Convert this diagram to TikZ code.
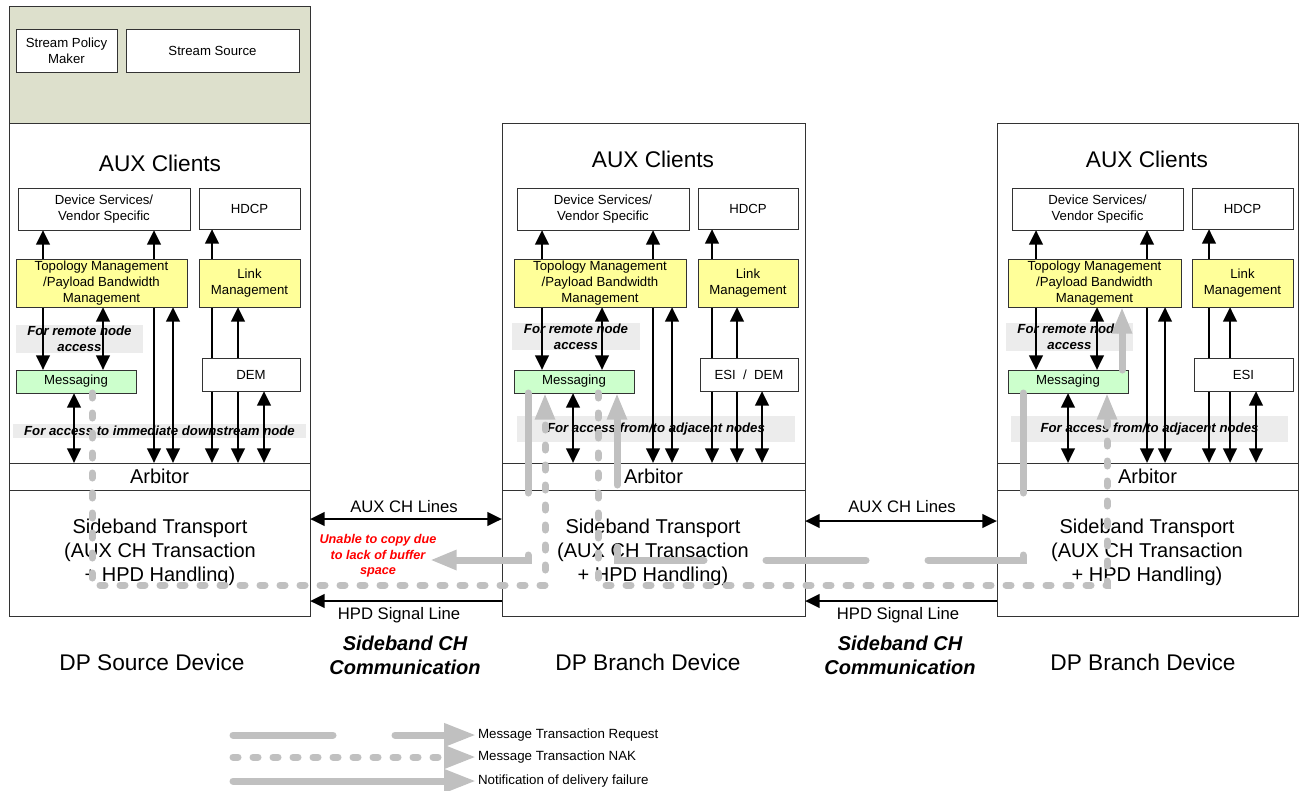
\documentclass[tikz,border=0pt]{standalone}
\usepackage{fontspec}
\setmainfont{Liberation Sans}
\usetikzlibrary{arrows.meta}
\pgfdeclarelayer{back}
\pgfdeclarelayer{mid}
\pgfsetlayers{back,mid,main}
\definecolor{topgreen}{RGB}{221,224,204}
\definecolor{yfill}{RGB}{255,255,153}
\definecolor{gfill}{RGB}{204,255,204}
\definecolor{bandg}{RGB}{236,236,236}
\definecolor{gline}{RGB}{192,192,192}
\definecolor{redtxt}{RGB}{255,0,0}
\newcommand\fsA{\fontsize{9.9}{12}\selectfont}
\newcommand\fsB{\fontsize{15}{18}\selectfont}
\newcommand\fsC{\fontsize{17}{20}\selectfont}
\newcommand\fsD{\fontsize{12.5}{15}\selectfont}
\newcommand\fsL{\fontsize{9.5}{11.6}\selectfont}
\newcommand\fsG{\fontsize{10}{12}\selectfont}
\newcommand\bx[7]{\node[#6, anchor=north west, minimum width={(#4-#2)*0.75pt}, minimum height={(#5-#3)*0.75pt}] (#1) at (#2,#3) {#7};}
\newcommand\va[3]{\draw[barr] (#1,0 |- #2) -- (#1,0 |- #3);}
\begin{document}
\begin{tikzpicture}[x=0.75pt, y=-0.75pt,
  every node/.style={font=\fsA, align=center, inner sep=0pt, outer sep=0pt},
  frame/.style={draw=black!80, line width=0.75pt, fill=white},
  ybox/.style={frame, fill=yfill},
  gbox/.style={frame, fill=gfill},
  band/.style={fill=bandg, draw=none},
  bandtxt/.style={font=\fsA\bfseries\itshape},
  barr/.style={line width=2.2pt, {Triangle[length=11pt,width=10pt]}-{Triangle[length=11pt,width=10pt]}},
  auxarr/.style={line width=2.2pt, {Triangle[length=11pt,width=10pt]}-{Triangle[length=11pt,width=10pt]}},
  hpdarr/.style={line width=2.2pt, -{Triangle[length=11pt,width=10pt]}},
  gtip/.style={-{Triangle[length=20pt,width=14pt]}},
  req/.style={draw=gline, line width=5.25pt, line cap=round, dash pattern=on 75pt off 46.5pt, gtip},
  nak/.style={draw=gline, line width=5.25pt, line cap=round, dash pattern=on 3.75pt off 11.25pt, gtip},
  fail/.style={draw=gline, line width=5.25pt, line cap=round, gtip},
  gtipL/.style={-{Triangle[length=24pt,width=16.5pt]}},
  devlbl/.style={font=\fsC},
  sbtxt/.style={font=\fsB}
]
\useasboundingbox (0,0) rectangle (1299,790);

\begin{pgfonlayer}{back}
\bx{tops}{9}{6}{310}{123}{frame, fill=topgreen}{}
\bx{devs}{9}{123}{310}{616}{frame}{}
\bx{devm}{502}{123}{805}{616}{frame}{}
\bx{devr}{997}{123}{1298}{616}{frame}{}
\bx{rbs}{16}{325}{143}{353}{band}{}
\bx{dbs}{13}{424}{306}{438}{band}{}
\bx{rbm}{512}{323}{640}{350}{band}{}
\bx{abm}{517}{416}{795}{442}{band}{}
\bx{rbr}{1006}{323}{1133}{351}{band}{}
\bx{abr}{1011}{416}{1288}{442}{band}{}
\end{pgfonlayer}

% ---------- source device ----------
\bx{spm}{16}{29}{117}{72}{frame}{Stream Policy\\Maker}
\bx{ssrc}{126}{29}{299}{72}{frame}{Stream Source}
\node[devlbl] (auxs) at (160,163) {AUX Clients};
\bx{dss}{18}{188}{190}{230}{frame}{Device Services/\\Vendor Specific}
\bx{hdcps}{199}{188}{300}{229}{frame}{HDCP}
\bx{topos}{16}{259}{187}{307}{ybox}{Topology Management\\/Payload Bandwidth\\Management}
\bx{links}{199}{259}{300}{307}{ybox}{Link\\Management}
\bx{msgs}{16}{370}{136}{393}{gbox}{Messaging}
\bx{dems}{202}{358}{300}{391}{frame}{DEM}
\bx{arbs}{9}{463}{310}{490}{frame}{\fsB Arbitor}
\node[sbtxt] (sbs) at (160,552) {Sideband Transport\\(AUX CH Transaction\\+ HPD Handling)};

% ---------- middle device ----------
\node[devlbl] (auxm) at (653,159) {AUX Clients};
\bx{dsm}{517}{188}{689}{230}{frame}{Device Services/\\Vendor Specific}
\bx{hdcpm}{698}{188}{798}{229}{frame}{HDCP}
\bx{topom}{514}{259}{686}{307}{ybox}{Topology Management\\/Payload Bandwidth\\Management}
\bx{linkm}{698}{259}{798}{307}{ybox}{Link\\Management}
\bx{msgm}{514}{370}{634}{393}{gbox}{Messaging}
\bx{esim}{700}{358}{798}{391}{frame}{ESI \ / \ DEM}
\bx{arbm}{502}{463}{805}{490}{frame}{\fsB Arbitor}
\node[sbtxt] (sbm) at (653,552) {Sideband Transport\\(AUX CH Transaction\\+ HPD Handling)};

% ---------- right device ----------
\node[devlbl] (auxr) at (1147,159) {AUX Clients};
\bx{dsr}{1012}{188}{1183}{230}{frame}{Device Services/\\Vendor Specific}
\bx{hdcpr}{1192}{188}{1293}{229}{frame}{HDCP}
\bx{topor}{1008}{259}{1181}{307}{ybox}{Topology Management\\/Payload Bandwidth\\Management}
\bx{linkr}{1192}{259}{1293}{307}{ybox}{Link\\Management}
\bx{msgr}{1008}{370}{1128}{393}{gbox}{Messaging}
\bx{esir}{1194}{358}{1293}{391}{frame}{ESI}
\bx{arbr}{997}{463}{1298}{490}{frame}{\fsB Arbitor}
\node[sbtxt] (sbr) at (1147,552) {Sideband Transport\\(AUX CH Transaction\\+ HPD Handling)};

% ---------- black arrows ----------
\begin{pgfonlayer}{mid}
\va{43}{dss.south}{msgs.north}
\va{103}{topos.south}{msgs.north}
\va{154}{dss.south}{arbs.north}
\va{173}{topos.south}{arbs.north}
\va{212}{hdcps.south}{arbs.north}
\va{238}{links.south}{arbs.north}
\va{264}{dems.south}{arbs.north}
\va{74}{msgs.south}{arbs.north}
\va{542}{dsm.south}{msgm.north}
\va{602}{topom.south}{msgm.north}
\va{653}{dsm.south}{arbm.north}
\va{672}{topom.south}{arbm.north}
\va{712}{hdcpm.south}{arbm.north}
\va{737}{linkm.south}{arbm.north}
\va{762}{esim.south}{arbm.north}
\va{573}{msgm.south}{arbm.north}
\va{1036}{dsr.south}{msgr.north}
\va{1097}{topor.south}{msgr.north}
\va{1147}{dsr.south}{arbr.north}
\va{1165}{topor.south}{arbr.north}
\va{1209}{hdcpr.south}{arbr.north}
\va{1230}{linkr.south}{arbr.north}
\va{1256}{esir.south}{arbr.north}
\va{1068}{msgr.south}{arbr.north}
\end{pgfonlayer}

% ---------- band texts ----------
\node[bandtxt] (trs) at (rbs) {For remote node\\access};
\node[bandtxt] (tds) at (dbs) {For access to immediate downstream node};
\node[bandtxt] (trm) at (rbm) {For remote node\\access};
\node[bandtxt] (tam) at (abm) {For access from/to adjacent nodes};
\node[bandtxt] (trr) at (rbr) {For remote node\\access};
\node[bandtxt] (tar) at (abr) {For access from/to adjacent nodes};

% ---------- links between devices ----------
\draw[auxarr] (devs.east |- 0,519) -- (devm.west |- 0,519);
\node[font=\fsD] (aux1) at (404,507) {AUX CH Lines};
\draw[auxarr] (devm.east |- 0,521) -- (devr.west |- 0,521);
\node[font=\fsD] (aux2) at (902,507) {AUX CH Lines};
\draw[hpdarr] (devm.west |- 0,601) -- (devs.east |- 0,601);
\node[font=\fsD] (hpd1) at (399,615) {HPD Signal Line};
\draw[hpdarr] (devr.west |- 0,601) -- (devm.east |- 0,601);
\node[font=\fsD] (hpd2) at (898,615) {HPD Signal Line};
\node[font=\fsB\bfseries\itshape] (sc1) at (405,655) {Sideband CH\\Communication};
\node[font=\fsB\bfseries\itshape] (sc2) at (900,655) {Sideband CH\\Communication};
\node[devlbl] (dp1) at (152,662) {DP Source Device};
\node[devlbl] (dp2) at (648,662) {DP Branch Device};
\node[devlbl] (dp3) at (1143,662) {DP Branch Device};
\node[font=\fsL\bfseries\itshape, text=redtxt] (unable) at (378,556) {Unable to copy due\\to lack of buffer\\space};

% ---------- gray message paths ----------
\coordinate (failpt) at (430,560);
\draw[req] (1023,0 |- msgr.south) -- (1023,560) -- (617,560) -- (617,0 |- msgm.south);
\draw[req] (528,0 |- msgm.south) -- (528,560) -- (failpt);
\draw[nak] (92,0 |- msgs.south) -- (92,585) -- (545,585) -- (545,0 |- msgm.south);
\draw[nak] (598,0 |- msgm.south) -- (598,585) -- (1107,585) -- (1107,0 |- msgr.south);
\draw[fail] (1122,0 |- msgr.north) -- (1122,0 |- topor.south);

% ---------- legend ----------
\coordinate (l1a) at (233,735); \coordinate (l1b) at (476,735);
\coordinate (l2a) at (233,757); \coordinate (l2b) at (476,757);
\coordinate (l3a) at (233,781); \coordinate (l3b) at (476,781);
\draw[req, gtipL] (l1a) -- (l1b);
\draw[nak, gtipL] (l2a) -- (l2b);
\draw[fail, gtipL] (l3a) -- (l3b);
\node[font=\fsG, anchor=west] (lt1) at (478,735) {Message Transaction Request};
\node[font=\fsG, anchor=west] (lt2) at (478,757) {Message Transaction NAK};
\node[font=\fsG, anchor=west] (lt3) at (478,781) {Notification of delivery failure};
\end{tikzpicture}
\end{document}
